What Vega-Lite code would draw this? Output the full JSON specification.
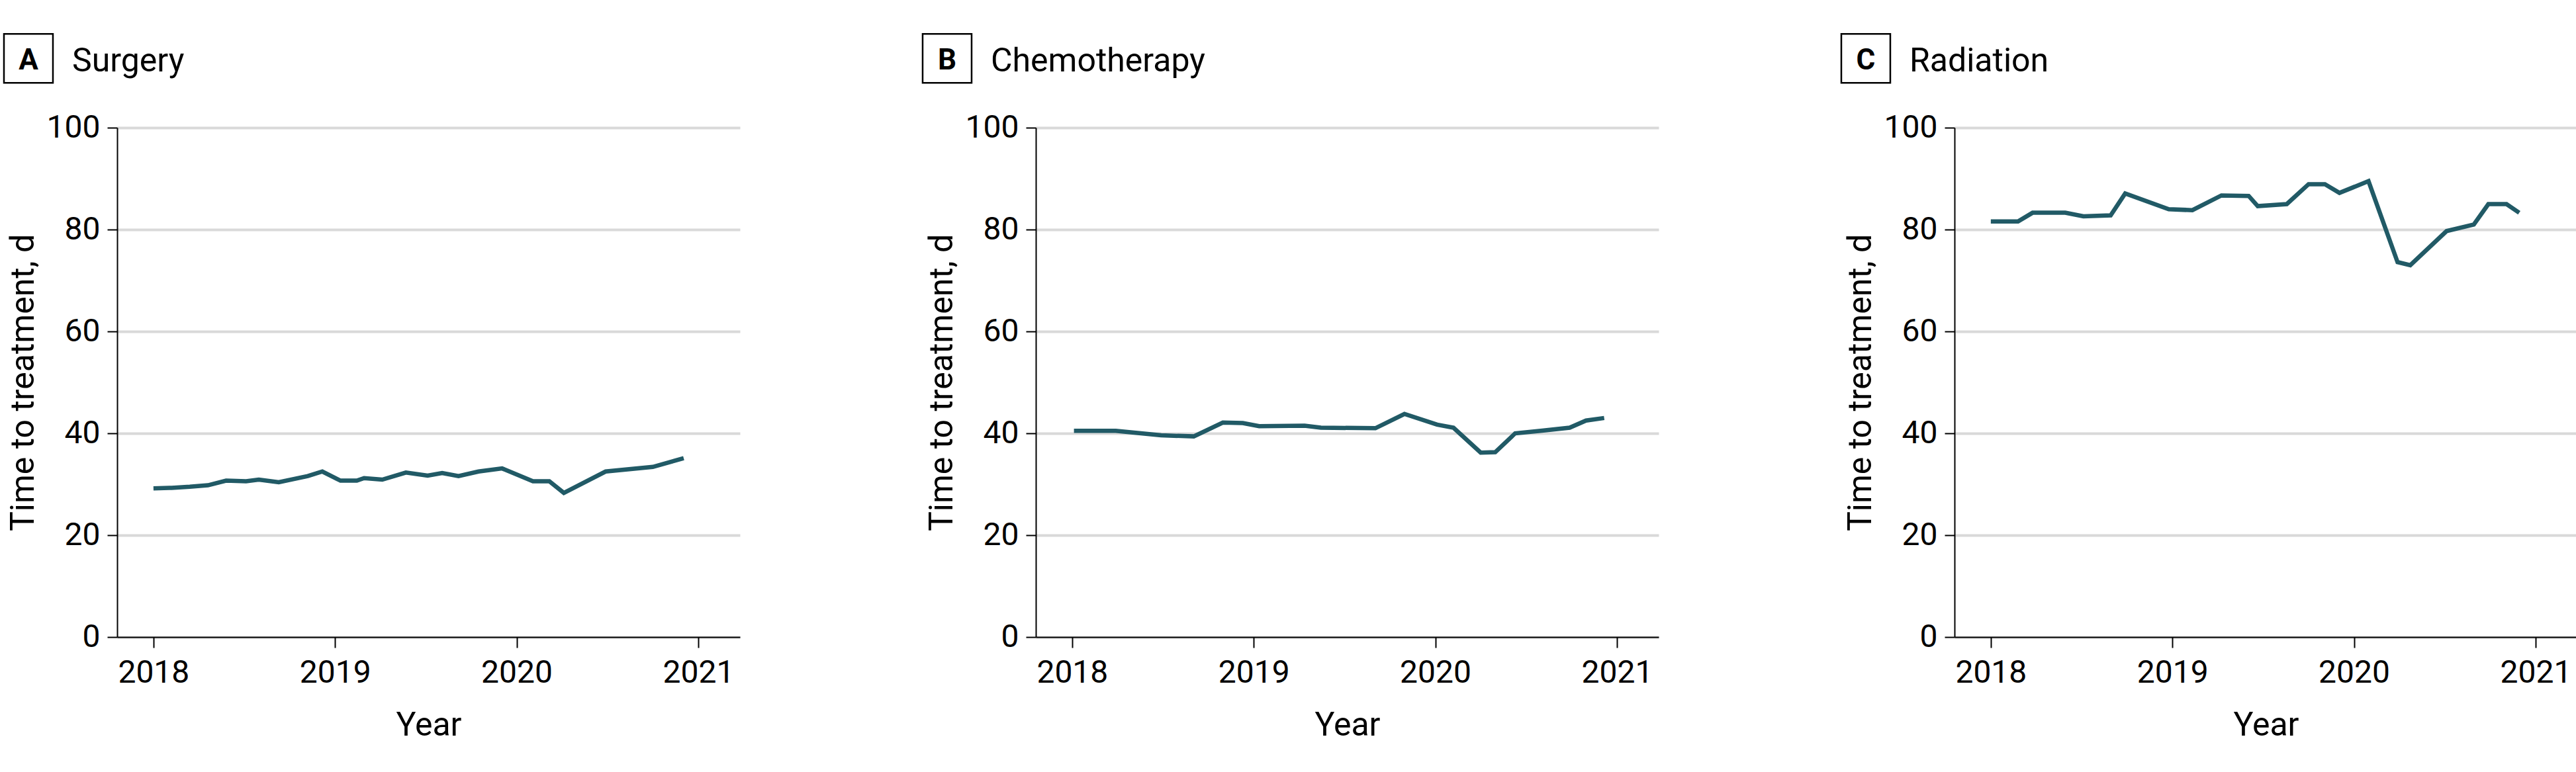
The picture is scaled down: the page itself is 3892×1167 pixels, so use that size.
{
  "$schema": "https://vega.github.io/schema/vega-lite/v6.json",
  "padding": {"left": 0, "top": 46, "right": 0, "bottom": 8},
  "background": "white",
  "spacing": 270,
  "datasets": {
    "surgery": [
      {"year": 2018.00, "days": 29.2},
      {"year": 2018.10, "days": 29.3},
      {"year": 2018.20, "days": 29.5},
      {"year": 2018.30, "days": 29.8},
      {"year": 2018.40, "days": 30.7},
      {"year": 2018.51, "days": 30.6},
      {"year": 2018.58, "days": 30.9},
      {"year": 2018.69, "days": 30.4},
      {"year": 2018.85, "days": 31.6},
      {"year": 2018.93, "days": 32.5},
      {"year": 2019.03, "days": 30.7},
      {"year": 2019.12, "days": 30.7},
      {"year": 2019.16, "days": 31.2},
      {"year": 2019.26, "days": 30.9},
      {"year": 2019.39, "days": 32.3},
      {"year": 2019.51, "days": 31.7},
      {"year": 2019.59, "days": 32.2},
      {"year": 2019.68, "days": 31.6},
      {"year": 2019.79, "days": 32.5},
      {"year": 2019.92, "days": 33.1},
      {"year": 2020.09, "days": 30.6},
      {"year": 2020.18, "days": 30.6},
      {"year": 2020.26, "days": 28.3},
      {"year": 2020.49, "days": 32.5},
      {"year": 2020.75, "days": 33.4},
      {"year": 2020.92, "days": 35.1}
    ],
    "chemo": [
      {"year": 2018.01, "days": 40.5},
      {"year": 2018.24, "days": 40.5},
      {"year": 2018.49, "days": 39.6},
      {"year": 2018.67, "days": 39.4},
      {"year": 2018.83, "days": 42.1},
      {"year": 2018.94, "days": 42.0},
      {"year": 2019.03, "days": 41.4},
      {"year": 2019.28, "days": 41.5},
      {"year": 2019.37, "days": 41.1},
      {"year": 2019.67, "days": 41.0},
      {"year": 2019.83, "days": 43.8},
      {"year": 2020.01, "days": 41.7},
      {"year": 2020.10, "days": 41.1},
      {"year": 2020.25, "days": 36.2},
      {"year": 2020.33, "days": 36.3},
      {"year": 2020.44, "days": 40.0},
      {"year": 2020.58, "days": 40.5},
      {"year": 2020.74, "days": 41.1},
      {"year": 2020.83, "days": 42.5},
      {"year": 2020.93, "days": 43.0}
    ],
    "radiation": [
      {"year": 2018.00, "days": 81.6},
      {"year": 2018.15, "days": 81.6},
      {"year": 2018.23, "days": 83.3},
      {"year": 2018.41, "days": 83.3},
      {"year": 2018.51, "days": 82.6},
      {"year": 2018.66, "days": 82.8},
      {"year": 2018.74, "days": 87.1},
      {"year": 2018.98, "days": 84.0},
      {"year": 2019.11, "days": 83.8},
      {"year": 2019.27, "days": 86.7},
      {"year": 2019.42, "days": 86.6},
      {"year": 2019.47, "days": 84.6},
      {"year": 2019.63, "days": 85.0},
      {"year": 2019.75, "days": 88.9},
      {"year": 2019.84, "days": 88.9},
      {"year": 2019.92, "days": 87.2},
      {"year": 2020.08, "days": 89.5},
      {"year": 2020.24, "days": 73.6},
      {"year": 2020.31, "days": 73.0},
      {"year": 2020.51, "days": 79.7},
      {"year": 2020.66, "days": 81.0},
      {"year": 2020.74, "days": 85.0},
      {"year": 2020.84, "days": 85.0},
      {"year": 2020.91, "days": 83.3}
    ]
  },
  "config": {
    "view": {"stroke": null},
    "font": "Roboto",
    "axis": {"domainColor": "black", "domainWidth": 2, "tickColor": "black", "tickWidth": 2, "labelFontSize": 48, "labelColor": "black", "titleFontSize": 50, "titleFontWeight": "normal", "titleColor": "black", "labelFont": "Roboto", "titleFont": "Roboto"},
    "axisX": {"grid": false, "tickSize": 16, "labelPadding": 14, "titlePadding": 30},
    "axisY": {"grid": true, "gridColor": "#d9d9d9", "gridWidth": 4, "tickSize": 15, "labelPadding": 11, "titlePadding": 10}
  },
  "hconcat": [
    {
      "width": 941, "height": 770,
      "layer": [
        {
          "data": {"name": "surgery"},
          "mark": {"type": "line", "color": "#215a66", "strokeWidth": 6.5},
          "encoding": {
            "x": {"field": "year", "type": "quantitative", "title": "Year", "scale": {"domain": [2017.8, 2021.23], "nice": false, "zero": false}, "axis": {"values": [2018, 2019, 2020, 2021], "format": "d"}},
            "y": {"field": "days", "type": "quantitative", "title": "Time to treatment, d", "scale": {"domain": [0, 100], "nice": false}, "axis": {"values": [0, 20, 40, 60, 80, 100]}}
          }
        },
        {
          "data": {"values": [{}]},
          "mark": {"type": "point", "shape": "square", "size": 5476, "filled": false, "color": "black", "strokeWidth": 2.5, "opacity": 1},
          "encoding": {"x": {"datum": 2017.3115, "type": "quantitative"}, "y": {"datum": 113.6, "type": "quantitative"}}
        },
        {
          "data": {"values": [{}]},
          "mark": {"type": "text", "text": "A", "fontSize": 44, "fontWeight": "bold", "baseline": "alphabetic", "align": "center", "color": "black", "font": "Roboto"},
          "encoding": {"x": {"datum": 2017.3115, "type": "quantitative"}, "y": {"datum": 111.4, "type": "quantitative"}}
        },
        {
          "data": {"values": [{}]},
          "mark": {"type": "text", "text": "Surgery", "fontSize": 50, "baseline": "alphabetic", "align": "left", "color": "black", "font": "Roboto"},
          "encoding": {"x": {"datum": 2017.552, "type": "quantitative"}, "y": {"datum": 111.0, "type": "quantitative"}}
        }
      ]
    },
    {
      "width": 941, "height": 770,
      "layer": [
        {
          "data": {"name": "chemo"},
          "mark": {"type": "line", "color": "#215a66", "strokeWidth": 6.5},
          "encoding": {
            "x": {"field": "year", "type": "quantitative", "title": "Year", "scale": {"domain": [2017.8, 2021.23], "nice": false, "zero": false}, "axis": {"values": [2018, 2019, 2020, 2021], "format": "d"}},
            "y": {"field": "days", "type": "quantitative", "title": "Time to treatment, d", "scale": {"domain": [0, 100], "nice": false}, "axis": {"values": [0, 20, 40, 60, 80, 100]}}
          }
        },
        {
          "data": {"values": [{}]},
          "mark": {"type": "point", "shape": "square", "size": 5476, "filled": false, "color": "black", "strokeWidth": 2.5, "opacity": 1},
          "encoding": {"x": {"datum": 2017.3115, "type": "quantitative"}, "y": {"datum": 113.6, "type": "quantitative"}}
        },
        {
          "data": {"values": [{}]},
          "mark": {"type": "text", "text": "B", "fontSize": 44, "fontWeight": "bold", "baseline": "alphabetic", "align": "center", "color": "black", "font": "Roboto"},
          "encoding": {"x": {"datum": 2017.3115, "type": "quantitative"}, "y": {"datum": 111.4, "type": "quantitative"}}
        },
        {
          "data": {"values": [{}]},
          "mark": {"type": "text", "text": "Chemotherapy", "fontSize": 50, "baseline": "alphabetic", "align": "left", "color": "black", "font": "Roboto"},
          "encoding": {"x": {"datum": 2017.552, "type": "quantitative"}, "y": {"datum": 111.0, "type": "quantitative"}}
        }
      ]
    },
    {
      "width": 941, "height": 770,
      "layer": [
        {
          "data": {"name": "radiation"},
          "mark": {"type": "line", "color": "#215a66", "strokeWidth": 6.5},
          "encoding": {
            "x": {"field": "year", "type": "quantitative", "title": "Year", "scale": {"domain": [2017.8, 2021.23], "nice": false, "zero": false}, "axis": {"values": [2018, 2019, 2020, 2021], "format": "d"}},
            "y": {"field": "days", "type": "quantitative", "title": "Time to treatment, d", "scale": {"domain": [0, 100], "nice": false}, "axis": {"values": [0, 20, 40, 60, 80, 100]}}
          }
        },
        {
          "data": {"values": [{}]},
          "mark": {"type": "point", "shape": "square", "size": 5476, "filled": false, "color": "black", "strokeWidth": 2.5, "opacity": 1},
          "encoding": {"x": {"datum": 2017.3115, "type": "quantitative"}, "y": {"datum": 113.6, "type": "quantitative"}}
        },
        {
          "data": {"values": [{}]},
          "mark": {"type": "text", "text": "C", "fontSize": 44, "fontWeight": "bold", "baseline": "alphabetic", "align": "center", "color": "black", "font": "Roboto"},
          "encoding": {"x": {"datum": 2017.3115, "type": "quantitative"}, "y": {"datum": 111.4, "type": "quantitative"}}
        },
        {
          "data": {"values": [{}]},
          "mark": {"type": "text", "text": "Radiation", "fontSize": 50, "baseline": "alphabetic", "align": "left", "color": "black", "font": "Roboto"},
          "encoding": {"x": {"datum": 2017.552, "type": "quantitative"}, "y": {"datum": 111.0, "type": "quantitative"}}
        }
      ]
    }
  ]
}
